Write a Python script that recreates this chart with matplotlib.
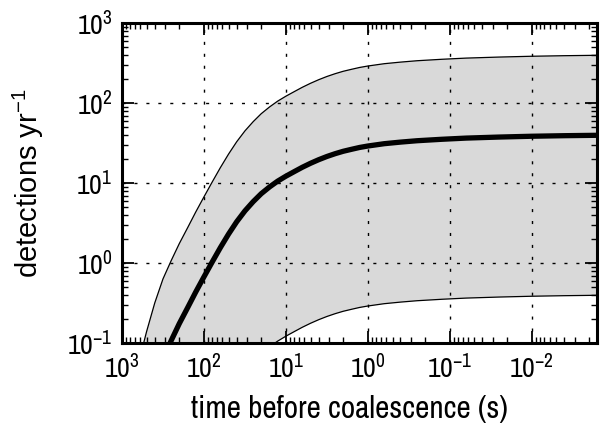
import matplotlib
matplotlib.use("Agg")
import matplotlib.pyplot as plt
from matplotlib.ticker import NullFormatter

# Detection rate vs. time left before merger: realistic rate (thick) with
# the low / high rate envelope shaded between them.
t_before = [794, 631, 501, 398, 316, 251, 200, 158, 126, 100, 79.4, 63.1,
            50.1, 39.8, 31.6, 25.1, 20.0, 15.8, 12.6, 10.0, 7.94, 6.31,
            5.01, 3.98, 3.16, 2.51, 2.00, 1.58, 1.26, 1.00, 0.631, 0.398,
            0.251, 0.126, 0.0631, 0.0251, 0.0100, 0.00398, 0.00158]
rate_mid = [0.0020, 0.00556, 0.0140, 0.0320, 0.0638, 0.108, 0.176, 0.279,
            0.437, 0.676, 1.035, 1.567, 2.317, 3.311, 4.519, 5.888, 7.413,
            9.016, 10.64, 12.27, 13.96, 15.85, 17.78, 19.72, 21.63, 23.44,
            25.12, 26.61, 28.05, 29.24, 31.26, 32.73, 34.04, 35.48, 36.73,
            37.84, 38.73, 39.36, 39.81]
rate_high = [0.020, 0.0556, 0.140, 0.320, 0.638, 1.08, 1.76, 2.79, 4.37,
             6.76, 10.35, 15.67, 23.17, 33.11, 45.19, 58.88, 74.13, 90.16,
             106.4, 122.7, 139.6, 158.5, 177.8, 197.2, 216.3, 234.4, 251.2,
             266.1, 280.5, 292.4, 312.6, 327.3, 340.4, 354.8, 367.3, 378.4,
             387.3, 393.6, 398.1]
rate_low = [0.000020, 0.0000556, 0.000140, 0.000320, 0.000638, 0.00108,
            0.00176, 0.00279, 0.00437, 0.00676, 0.01035, 0.01567, 0.02317,
            0.03311, 0.04519, 0.05888, 0.07413, 0.09016, 0.1064, 0.1227,
            0.1396, 0.1585, 0.1778, 0.1972, 0.2163, 0.2344, 0.2512, 0.2661,
            0.2805, 0.2924, 0.3126, 0.3273, 0.3404, 0.3548, 0.3673, 0.3784,
            0.3873, 0.3936, 0.3981]

XLIM = (1e3, 1.6e-3)
YLIM = (1e-1, 1e3)
XTICKS = [1e3, 1e2, 1e1, 1e0, 1e-1, 1e-2]
YTICKS = [1e-1, 1e0, 1e1, 1e2, 1e3]

plt.rcParams["font.family"] = ["Archivo Narrow", "Liberation Sans",
                               "DejaVu Sans"]
plt.rcParams["mathtext.default"] = "regular"

fig = plt.figure(figsize=(6.0, 4.29), dpi=100)
ax = fig.add_axes([0.2033, 0.1998, 0.7917, 0.7459])

ax.fill_between(t_before, rate_low, rate_high, color="0.85", lw=0, zorder=1)
ax.plot(t_before, rate_high, color="k", lw=0.9, zorder=3)
ax.plot(t_before, rate_low, color="k", lw=0.9, zorder=3)
ax.plot(t_before, rate_mid, color="k", lw=3.8, zorder=4,
        solid_capstyle="butt", solid_joinstyle="round")

ax.set_xscale("log")
ax.set_yscale("log")
ax.set_xticks(XTICKS)
ax.set_yticks(YTICKS)
ax.set_xlim(*XLIM)
ax.set_ylim(*YLIM)
ax.xaxis.set_minor_formatter(NullFormatter())
ax.yaxis.set_minor_formatter(NullFormatter())

ax.grid(True, which="major", color="k", lw=1.0, linestyle=(0, (2.2, 6.4)),
        zorder=2)
ax.set_axisbelow(False)

for s in ax.spines.values():
    s.set_linewidth(2.2)
    s.set_zorder(6)

ax.tick_params(which="both", direction="in", top=True, right=True,
               labelsize=20, colors="k")
ax.tick_params(which="major", length=8.5, width=1.3, pad=8)
ax.tick_params(which="minor", length=4.5, width=1.0)
ax.tick_params(axis="y", which="major", pad=7)

ax.set_xlabel("time before coalescence (s)", fontsize=22.5, labelpad=8)
ax.xaxis.label.set_x(0.479)
ax.set_ylabel(r"detections yr$^{-1}$", fontsize=21, labelpad=15,
              family=["Liberation Sans", "DejaVu Sans"])

fig.savefig("out.png", dpi=100)
